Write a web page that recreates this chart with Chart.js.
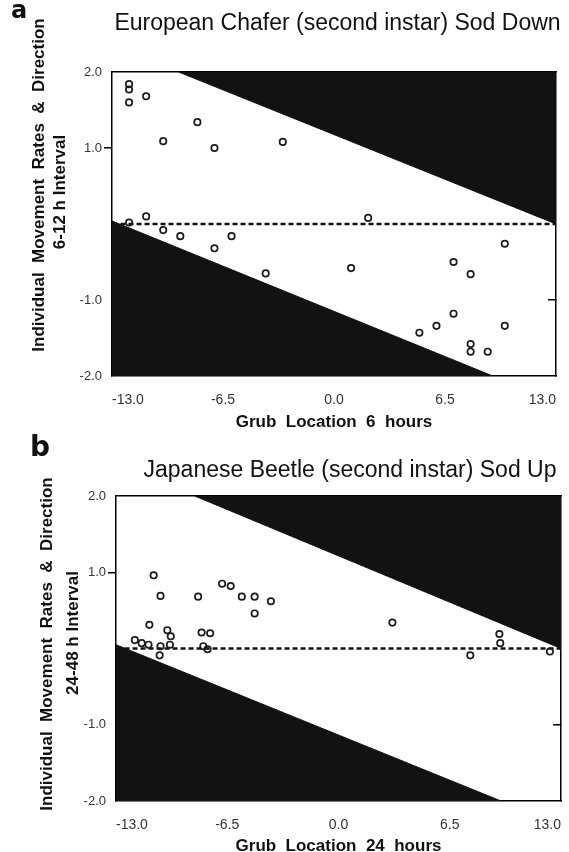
<!DOCTYPE html>
<html>
<head>
<meta charset="utf-8">
<script src="https://cdn.jsdelivr.net/npm/chart.js"></script>
<style>
  html, body { margin: 0; padding: 0; background: #fff; overflow: hidden; }
  canvas { display: block; }
</style>
</head>
<body>
<canvas id="chartA" width="569" height="432"></canvas>
<canvas id="chartB" width="569" height="420"></canvas>
<script>
// Panel a: European chafer, sod down, 6-12 h interval
const chaferX = [-12, -12, -12, -11, -10, -8, -7, -3, -12, -11, -10, -9, -7, -6, -4,
                 2, 1, 10, 7, 8, 7, 6, 5, 10, 8, 8, 9];
const chaferY = [1.84, 1.77, 1.60, 1.68, 1.09, 1.34, 1.00, 1.08, 0.02, 0.10, -0.08, -0.16, -0.32, -0.16, -0.65,
                 0.08, -0.58, -0.26, -0.50, -0.66, -1.18, -1.34, -1.43, -1.34, -1.58, -1.68, -1.68];

// Panel b: Japanese beetle, sod up, 24-48 h interval
const beetleX = [-10.8, -10.4, -11.05, -11.9, -11.5, -11.1, -10.4, -10.45, -10.0, -9.8, -9.85,
                 -8.2, -8.0, -7.5, -7.9, -7.65, -6.8, -6.3, -5.65, -4.9, -4.9, -3.95,
                 3.15, 9.4, 9.45, 7.7, 12.35];
const beetleY = [0.96, 0.69, 0.31, 0.11, 0.07, 0.05, 0.03, -0.09, 0.24, 0.16, 0.05,
                 0.68, 0.21, 0.20, 0.03, -0.01, 0.85, 0.82, 0.68, 0.68, 0.46, 0.62,
                 0.34, 0.19, 0.07, -0.09, -0.04];

// edges of the shaded (out of reach) zones
const chaferUpperX = [-9.1, 13], chaferUpperY = [2, 0];
const chaferLowerX = [-13, 9.3], chaferLowerY = [0.04, -2];
const beetleUpperX = [-8.4, 13], beetleUpperY = [2, 0];
const beetleLowerX = [-13, 9.5], beetleLowerY = [0.05, -2];

// no-movement line
const zeroLineX = [-12.5, 13];
const zeroLineY = [0, 0];

const xTicks = [-13, -6.5, 0, 6.5, 13];
const yTicks = [2, 1, -1, -2];

const fam = '"Liberation Sans", Arial, Helvetica, sans-serif';
Chart.defaults.font.family = fam;

const toPoints = (xs, ys) => xs.map((x, i) => ({ x: x, y: ys[i] }));

// panel letter, heading and the two-line y title
function textPlugin(cfg) {
    return {
        id: 'panelText',
        afterDraw(chart) {
            const ctx = chart.ctx;
            ctx.save();
            ctx.fillStyle = '#111';
            ctx.textAlign = 'center';
            ctx.textBaseline = 'middle';
            ctx.font = 'bold ' + cfg.letterSize + 'px "DejaVu Sans", sans-serif';
            ctx.fillText(cfg.letter, cfg.letterAt[0], cfg.letterAt[1]);
            ctx.font = '23px ' + fam;
            ctx.fillText(cfg.title, cfg.titleAt[0], cfg.titleAt[1]);
            ctx.font = 'bold 17px ' + fam;
            cfg.yLines.forEach((line, i) => {
                ctx.save();
                ctx.translate(cfg.yAt[i][0], cfg.yAt[i][1]);
                ctx.rotate(-Math.PI / 2);
                ctx.fillText(line, 0, 0);
                ctx.restore();
            });
            ctx.restore();
        }
    };
}

const frame = { display: true, color: '#000', width: 1.5 };

function makeScales(xTitle, box) {
    return {
        x: {
            type: 'linear', position: 'bottom', min: -13, max: 13,
            afterBuildTicks: s => { s.ticks = xTicks.map(v => ({ value: v })); },
            afterFit: s => { s.height = box.bottomH; },
            grid: { display: false },
            border: frame,
            ticks: { align: 'inner', padding: 8, color: '#333', font: { size: 14 }, callback: v => v.toFixed(1) },
            title: {
                display: true, text: xTitle, color: '#111',
                font: { size: 17, weight: 'bold', lineHeight: 1 },
                padding: { top: 0, bottom: box.titlePad }
            }
        },
        xTop: {
            type: 'linear', position: 'top', min: -13, max: 13,
            afterFit: s => { s.height = box.top; },
            grid: { display: false },
            ticks: { display: false },
            border: frame
        },
        y: {
            type: 'linear', position: 'left', min: -2, max: 2,
            afterBuildTicks: s => { s.ticks = yTicks.map(v => ({ value: v })); },
            afterFit: s => { s.width = box.left; },
            grid: {
                drawOnChartArea: false, tickLength: 8, lineWidth: 1.5,
                color: c => (c.tick && c.tick.value === 1) ? '#000' : 'rgba(0,0,0,0)'
            },
            border: frame,
            ticks: { padding: 2, color: '#333', font: { size: 13 }, callback: v => v.toFixed(1) }
        },
        yRight: {
            type: 'linear', position: 'right', min: -2, max: 2,
            afterBuildTicks: s => { s.ticks = [{ value: -1 }]; },
            afterFit: s => { s.width = 569 - box.right; },
            grid: { drawOnChartArea: false, tickLength: -8, lineWidth: 1.5, color: '#000' },
            ticks: { display: false },
            border: frame
        }
    };
}

function makeDatasets(xs, ys, upX, upY, loX, loY) {
    return [
        {
            label: 'grubs', data: toPoints(xs, ys), order: 0,
            pointRadius: 3.2, pointBorderWidth: 1.7,
            pointBorderColor: '#1a1a1a', pointBackgroundColor: 'rgba(0,0,0,0)'
        },
        {
            label: 'zero', data: toPoints(zeroLineX, zeroLineY), order: 1,
            showLine: true, pointRadius: 0,
            borderColor: '#111', borderWidth: 2.5, borderDash: [5, 3]
        },
        {
            label: 'upper', data: toPoints(upX, upY), order: 2,
            showLine: true, pointRadius: 0, fill: 'end',
            borderColor: '#121212', borderWidth: 1, backgroundColor: '#121212'
        },
        {
            label: 'lower', data: toPoints(loX, loY), order: 2,
            showLine: true, pointRadius: 0, fill: 'start',
            borderColor: '#121212', borderWidth: 1, backgroundColor: '#121212'
        }
    ];
}

const baseOptions = {
    responsive: false,
    animation: false,
    events: [],
    layout: { padding: 0 },
    plugins: { legend: { display: false }, tooltip: { enabled: false } }
};

// Panel a
new Chart(document.getElementById('chartA'), {
    type: 'scatter',
    data: { datasets: makeDatasets(chaferX, chaferY, chaferUpperX, chaferUpperY, chaferLowerX, chaferLowerY) },
    options: Object.assign({}, baseOptions, {
        scales: makeScales('Grub  Location  6  hours', { top: 72, left: 112, right: 556, bottomH: 56, titlePad: 1.5 })
    }),
    plugins: [textPlugin({
        letter: 'a', letterSize: 24, letterAt: [19, 12],
        title: 'European Chafer (second instar) Sod Down', titleAt: [337.5, 24],
        yLines: ['Individual  Movement  Rates  &  Direction', '6-12 h Interval'],
        yAt: [[39, 185], [60, 192]]
    })]
});

// Panel b
new Chart(document.getElementById('chartB'), {
    type: 'scatter',
    data: { datasets: makeDatasets(beetleX, beetleY, beetleUpperX, beetleUpperY, beetleLowerX, beetleLowerY) },
    options: Object.assign({}, baseOptions, {
        scales: makeScales('Grub  Location  24  hours', { top: 64, left: 116, right: 561, bottomH: 51, titlePad: -2.5 })
    }),
    plugins: [textPlugin({
        letter: 'b', letterSize: 28, letterAt: [40, 17],
        title: 'Japanese Beetle (second instar) Sod Up', titleAt: [350, 39],
        yLines: ['Individual  Movement  Rates  &  Direction', '24-48 h Interval'],
        yAt: [[47, 212], [73, 201]]
    })]
});
</script>
</body>
</html>
